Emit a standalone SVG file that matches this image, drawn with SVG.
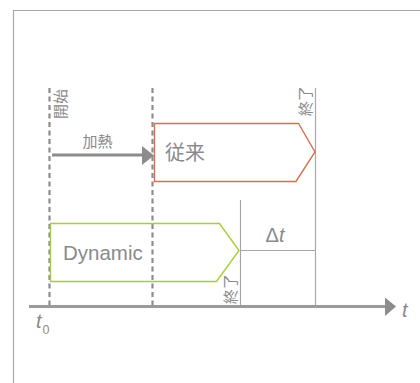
<svg xmlns="http://www.w3.org/2000/svg" width="420" height="383" viewBox="0 0 420 383">
  <style>
    .lbl { font-family: "Liberation Sans", "Noto Sans CJK JP", sans-serif; fill: #8a8a8a; }
    .it { font-family: "Liberation Sans", sans-serif; font-style: italic; fill: #8a8a8a; }
    .dash { stroke: #8c8c8c; stroke-width: 2.2; stroke-dasharray: 5 3.5; fill: none; }
    .thin { stroke: #a8a8a8; stroke-width: 1.2; fill: none; }
  </style>
  <rect width="420" height="383" fill="#ffffff"/>
  <!-- frame -->
  <polyline points="13.5,383 13.5,10.5 420,10.5" fill="none" stroke="#a8a8a8" stroke-width="1.2"/>

  <g id="connectors">
    <!-- start / heating markers -->
    <line class="dash" x1="49.5" y1="88" x2="49.5" y2="305"/>
    <line class="dash" x1="152.5" y1="88" x2="152.5" y2="305"/>
    <!-- end markers -->
    <line class="thin" x1="315.5" y1="88" x2="315.5" y2="305"/>
    <line class="thin" x1="240.5" y1="200" x2="240.5" y2="305"/>
    <!-- delta t span -->
    <line class="thin" x1="240.5" y1="250.5" x2="315.5" y2="250.5"/>
    <!-- heating arrow -->
    <line x1="52" y1="155" x2="142" y2="155" stroke="#8c8c8c" stroke-width="3"/>
    <path d="M142,146 L154,155.5 L142,165 z" fill="#8c8c8c"/>
    <!-- time axis -->
    <line x1="29" y1="306.5" x2="386" y2="306.5" stroke="#9a9a9a" stroke-width="3"/>
    <path d="M385,297.5 L396,306.5 L385,316 z" fill="#8c8c8c"/>
  </g>

  <g id="conventional">
    <polygon points="154.5,123.5 298.5,123.5 315,152 296,181.5 154.5,181.5" fill="none" stroke="#d6704f" stroke-width="1.4"/>
    <text class="lbl" x="165" y="160" font-size="20">従来</text>
  </g>

  <g id="dynamic">
    <polygon points="50.5,223.5 219.5,223.5 239,250.5 216.5,281.5 50.5,281.5" fill="none" stroke="#a6d02e" stroke-width="1.4"/>
    <text class="lbl" x="63" y="260" font-size="20.5">Dynamic</text>
  </g>

  <g id="labels">
    <text class="lbl" x="97.5" y="146.5" font-size="15" text-anchor="middle">加熱</text>
    <text class="lbl" font-size="15" transform="translate(65.5,119) rotate(-90)">開始</text>
    <text class="lbl" font-size="15" transform="translate(310.5,116) rotate(-90)">終了</text>
    <text class="lbl" font-size="15" transform="translate(235.5,304) rotate(-90)">終了</text>
    <text class="lbl" x="275" y="241.5" font-size="20" text-anchor="middle">Δ<tspan class="it">t</tspan></text>
    <text class="it" x="402" y="317" font-size="20">t</text>
    <text class="it" x="36" y="328" font-size="20">t</text>
    <text class="lbl" x="42.5" y="334" font-size="12.5">0</text>
  </g>
</svg>
